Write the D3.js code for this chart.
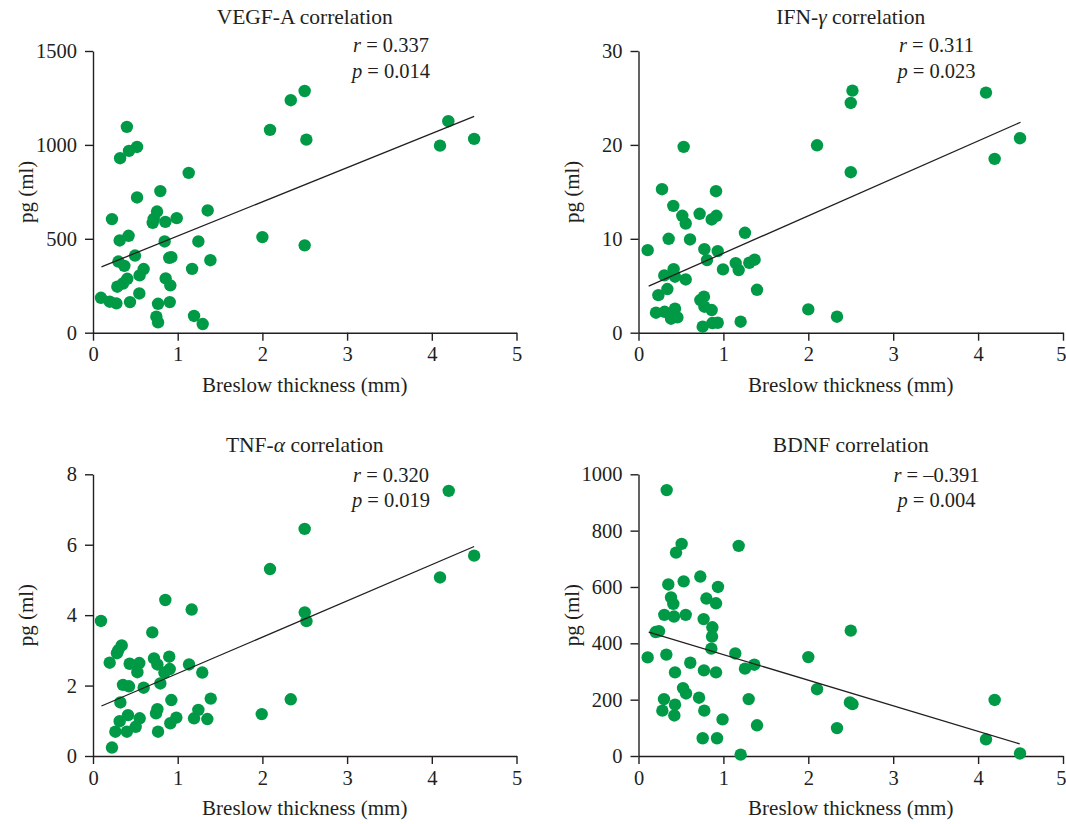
<!DOCTYPE html>
<html><head><meta charset="utf-8">
<script src="https://cdn.jsdelivr.net/npm/d3@7/dist/d3.min.js"></script>
<style>
body{margin:0;background:#fff;}
svg{display:block;font-family:"Liberation Serif","Times New Roman",serif;}
</style></head>
<body>
<svg id="chart" width="1066" height="824"></svg>
<script>
// ---------- data ----------
const xTicks = [0, 1, 2, 3, 4, 5];

const vegfX = [0.40,0.425,0.52,0.32,1.13,0.795,0.52,0.756,1.354,0.224,0.705,0.717,0.854,0.988,0.42,0.315,0.846,1.244,2.0,0.496,0.30,0.37,0.90,0.925,1.386,1.17,0.598,0.55,0.405,0.354,0.287,0.858,0.913,0.094,0.197,0.276,0.437,0.547,0.768,0.906,0.748,0.768,1.193,1.295,2.09,2.335,2.499,2.519,2.499,4.097,4.195,4.50];
const vegfY = [1096,968,989,929,851,754,720,645,651,605,585,606,590,610,516,491,486,486,509,411,379,356,399,402,386,340,339,305,287,262,245,289,252,186,165,156,163,209,154,163,85,55,89,46,1080,1238,1287,1028,465,996,1126,1032];
const vegfTicks = [0, 500, 1000, 1500];
const vegfFitX = [0.10, 4.50];
const vegfFitY = [351, 1152];

const ifnX = [0.532,2.103,0.277,0.913,0.41,0.516,0.556,0.72,0.862,0.917,1.254,0.355,0.607,0.108,0.776,0.933,0.807,1.145,1.18,1.305,1.368,0.995,0.414,0.304,0.43,0.556,0.34,0.234,1.396,0.206,0.308,0.383,0.43,0.458,0.728,0.771,0.776,0.862,0.756,0.87,0.933,1.203,2.0,2.338,2.52,2.50,2.50,4.093,4.494,4.195];
const ifnY = [19.79,19.96,15.28,15.07,13.51,12.45,11.63,12.66,12.06,12.45,10.64,10.0,9.93,8.79,8.9,8.69,7.73,7.41,6.67,7.45,7.77,6.74,6.77,6.1,5.96,5.67,4.65,4.0,4.57,2.13,2.23,1.49,2.55,1.63,3.48,3.83,2.77,2.41,0.64,1.03,1.06,1.17,2.48,1.70,25.78,24.47,17.09,25.57,20.71,18.51];
const ifnTicks = [0, 10, 20, 30];
const ifnFitX = [0.12, 4.50];
const ifnFitY = [4.96, 22.41];

const tnfX = [0.094,0.854,1.165,2.09,0.70,0.339,0.30,0.283,0.197,0.433,0.547,0.524,0.72,0.76,0.90,0.906,0.843,1.134,1.29,0.354,0.425,0.598,0.795,0.323,0.925,1.39,2.335,1.992,0.413,0.315,0.551,0.504,0.40,0.264,0.224,0.76,0.744,0.768,0.913,0.984,1.193,1.244,1.35,4.20,2.499,2.50,2.52,4.097,4.50];
const tnfY = [3.835,4.43,4.16,5.31,3.51,3.14,3.01,2.92,2.65,2.62,2.64,2.38,2.77,2.60,2.82,2.47,2.37,2.60,2.37,2.02,1.98,1.94,2.06,1.52,1.59,1.63,1.61,1.19,1.16,0.99,1.07,0.83,0.69,0.69,0.24,1.33,1.21,0.69,0.93,1.09,1.07,1.31,1.05,7.53,6.45,4.08,3.83,5.07,5.69];
const tnfTicks = [0, 2, 4, 6, 8];
const tnfFitX = [0.10, 4.50];
const tnfFitY = [1.42, 5.95];

const bdnfX = [0.332,0.508,0.442,1.18,0.728,0.532,0.351,0.936,0.383,0.41,0.80,0.913,0.304,0.418,0.556,0.767,0.87,0.866,0.858,0.202,0.241,0.108,0.328,1.14,2.0,0.61,0.43,0.771,0.913,1.254,1.364,0.524,0.56,2.103,0.30,0.713,1.298,0.43,0.281,0.422,0.775,0.99,1.396,2.338,0.756,0.925,1.203,2.50,2.49,2.52,4.195,4.093,4.494];
const bdnfY = [944,753,722,746,637,620,609,600,563,540,559,542,501,495,501,486,457,424,381,440,443,350,360,364,351,331,297,304,297,310,324,241,222,237,202,207,202,182,161,144,161,130,109,99,63,63,5,445,190,184,199,59,9];
const bdnfTicks = [0, 200, 400, 600, 800, 1000];
const bdnfFitX = [0.12, 4.49];
const bdnfFitY = [440, 43];

const titles = [["VEGF-A correlation", null], ["IFN-", "γ"], ["TNF-", "α"], ["BDNF correlation", null]];
const rTexts = ["0.337", "0.311", "0.320", "\u20130.391"];
const pTexts = ["0.014", "0.023", "0.019", "0.004"];

// ---------- layout ----------
const green = "#009a47";
const ink = "#231f20";
const panels = [
  {x: vegfX, y: vegfY, ticks: vegfTicks, fx: vegfFitX, fy: vegfFitY, max: 1500, L: 93, R: 516.5, T: 51, B: 332.7},
  {x: ifnX, y: ifnY, ticks: ifnTicks, fx: ifnFitX, fy: ifnFitY, max: 30, L: 638.5, R: 1063, T: 51, B: 332.7},
  {x: tnfX, y: tnfY, ticks: tnfTicks, fx: tnfFitX, fy: tnfFitY, max: 8, L: 93, R: 516.5, T: 474.3, B: 756},
  {x: bdnfX, y: bdnfY, ticks: bdnfTicks, fx: bdnfFitX, fy: bdnfFitY, max: 1000, L: 638.5, R: 1063, T: 474.3, B: 756}
];

const svg = d3.select("#chart");

panels.forEach((p, i) => {
  const xs = d3.scaleLinear().domain([0, 5]).range([p.L, p.R]);
  const ys = d3.scaleLinear().domain([0, p.max]).range([p.B, p.T]);
  const g = svg.append("g");

  const xa = g.append("g").attr("transform", `translate(0,${p.B})`)
    .call(d3.axisBottom(xs).tickValues(xTicks).tickFormat(d3.format("d")).tickSize(8).tickPadding(6).tickSizeOuter(0));
  const ya = g.append("g").attr("transform", `translate(${p.L},0)`)
    .call(d3.axisLeft(ys).tickValues(p.ticks).tickFormat(d3.format("d")).tickSize(8).tickPadding(8).tickSizeOuter(0));
  [xa, ya].forEach(a => {
    a.select(".domain").attr("stroke", ink).attr("stroke-width", 1.4);
    a.selectAll(".tick line").attr("stroke", ink).attr("stroke-width", 1.4);
    a.selectAll(".tick text").attr("fill", ink).style("font-size", "20.5px").style("font-family", "Liberation Serif, serif");
  });
  // keep the last x label inside the window on the right-hand panels
  if (p.R > 1050) {
    xa.selectAll(".tick text").filter(d => d === 5).attr("text-anchor", "end").attr("x", 3);
  }

  // points
  g.append("g").selectAll("circle").data(p.x.map((v, k) => [v, p.y[k]])).join("circle")
    .attr("cx", d => xs(d[0])).attr("cy", d => ys(d[1])).attr("r", 6.2).attr("fill", green);

  // regression line
  g.append("path").datum(p.fx.map((v, k) => [v, p.fy[k]]))
    .attr("d", d3.line().x(d => xs(d[0])).y(d => ys(d[1])))
    .attr("stroke", ink).attr("stroke-width", 1.3).attr("fill", "none");

  const cx = (p.L + p.R) / 2;
  const top = i < 2;
  // title
  const t = g.append("text").attr("x", cx).attr("y", top ? 24 : 452).attr("text-anchor", "middle")
    .attr("fill", ink).style("font-size", "21.5px");
  if (titles[i][1]) {
    t.append("tspan").text(titles[i][0]);
    t.append("tspan").style("font-style", "italic").text(titles[i][1]);
    t.append("tspan").text(" correlation");
  } else t.text(titles[i][0]);

  // r and p
  const sx = p.L + 298;
  const r = g.append("text").attr("x", sx).attr("y", top ? 52 : 482).attr("text-anchor", "middle").attr("fill", ink).style("font-size", "20.5px");
  r.append("tspan").style("font-style", "italic").text("r");
  r.append("tspan").text(" = " + rTexts[i]);
  const q = g.append("text").attr("x", sx).attr("y", top ? 78 : 507).attr("text-anchor", "middle").attr("fill", ink).style("font-size", "20.5px");
  q.append("tspan").style("font-style", "italic").text("p");
  q.append("tspan").text(" = " + pTexts[i]);

  // axis titles
  g.append("text").attr("x", cx).attr("y", p.B + 59).attr("text-anchor", "middle").attr("fill", ink)
    .style("font-size", "21px").text("Breslow thickness (mm)");
  g.append("text").attr("transform", `translate(${p.L - 60},${(p.T + p.B) / 2}) rotate(-90)`)
    .attr("text-anchor", "middle").attr("fill", ink).style("font-size", "21px").text("pg (ml)");
});
</script>
</body></html>
